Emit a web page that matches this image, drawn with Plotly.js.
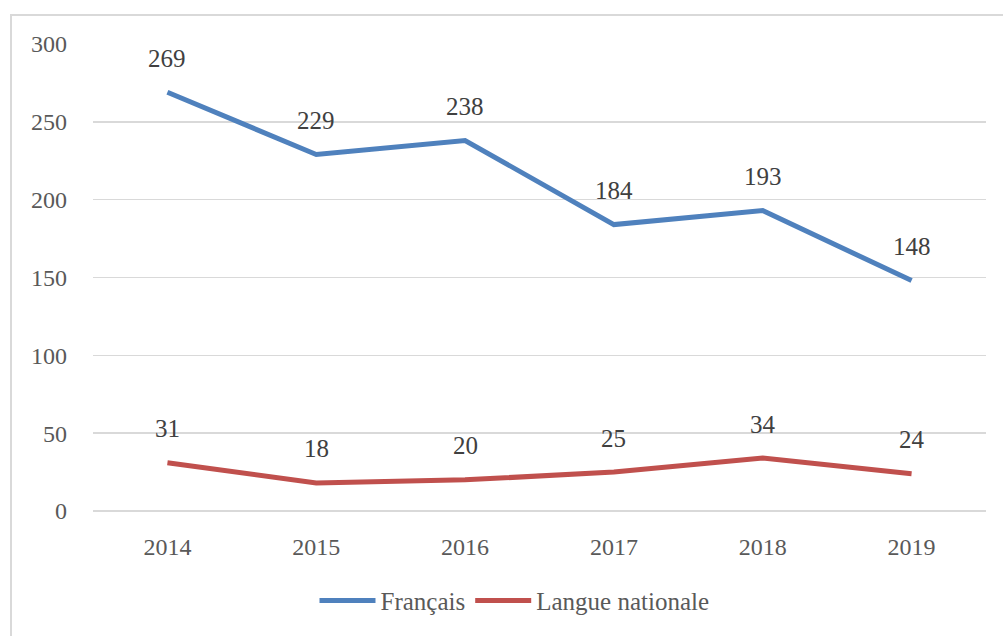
<!DOCTYPE html>
<html>
<head>
<meta charset="utf-8">
<script src="https://cdn.plot.ly/plotly-3.0.1.min.js"></script>
<style>
html,body{margin:0;padding:0;background:#fff;overflow:hidden;}
#wrap{position:relative;width:1003px;height:636px;}
#chart{position:absolute;left:0;top:0;width:1003px;height:636px;}
#frame{position:absolute;left:10px;top:14px;width:1100px;height:700px;border:2px solid #d9d9d9;pointer-events:none;}
</style>
</head>
<body>
<div id="wrap"><div id="chart"></div><div id="frame"></div></div>
<script>
var years = ['2014','2015','2016','2017','2018','2019'];
var francais = [269, 229, 238, 184, 193, 148];
var langueNationale = [31, 18, 20, 25, 34, 24];
var seriesNames = ['Français', 'Langue nationale'];
var yTicks = [0, 50, 100, 150, 200, 250, 300];

var FONT = 'Liberation Serif';

var traces = [
  {x: years, y: francais, name: seriesNames[0], type: 'scatter', mode: 'lines',
   line: {color: '#4f81bd', width: 5}},
  {x: years, y: langueNationale, name: seriesNames[1], type: 'scatter', mode: 'lines',
   line: {color: '#c0504d', width: 5}}
];

var annotations = [];
[francais, langueNationale].forEach(function(series){
  series.forEach(function(v, i){
    annotations.push({x: i, y: v, text: String(v), showarrow: false,
      yshift: 34, xref: 'x', yref: 'y',
      font: {family: FONT, size: 25, color: '#404040'}});
  });
});

var layout = {
  width: 1003, height: 636,
  margin: {l: 93, r: 17, t: 44, b: 123},
  paper_bgcolor: '#ffffff', plot_bgcolor: '#ffffff',
  font: {family: FONT, size: 24, color: '#595959'},
  showlegend: true,
  legend: {orientation: 'h', x: 0.472, xanchor: 'center', y: -0.192, yanchor: 'middle',
    font: {family: FONT, size: 25, color: '#595959'}, itemwidth: 56},
  xaxis: {type: 'category', range: [-0.5, 5.5], showgrid: false, zeroline: false,
    showline: false, ticks: '', ticklabelstandoff: 19,
    tickfont: {family: FONT, size: 24, color: '#595959'}},
  yaxis: {range: [0, 300], tickvals: yTicks, showgrid: true, gridcolor: '#d9d9d9', gridwidth: 1.5,
    zeroline: true, zerolinecolor: '#d9d9d9', zerolinewidth: 1.5, showline: false, ticks: '',
    ticklabelstandoff: 25, tickfont: {family: FONT, size: 24, color: '#595959'}},
  annotations: annotations
};

Plotly.newPlot('chart', traces, layout, {displayModeBar: false, staticPlot: true});
</script>
</body>
</html>
